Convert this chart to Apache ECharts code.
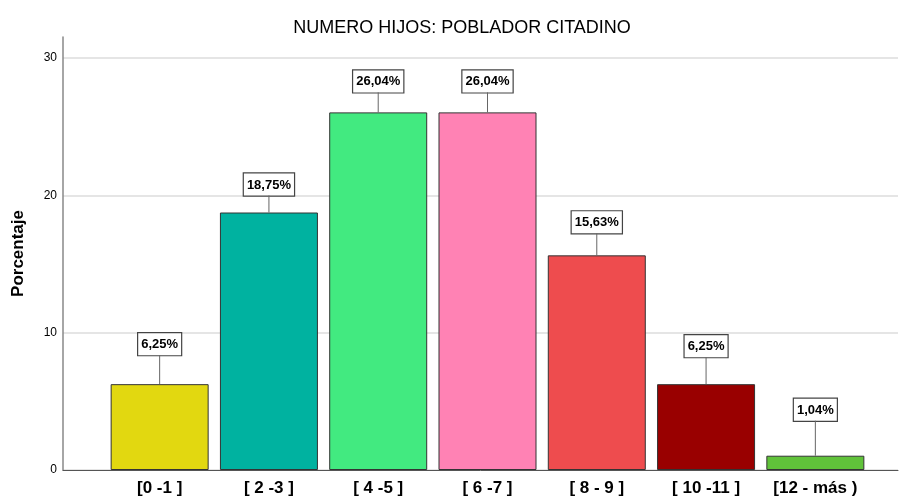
<!DOCTYPE html>
<html>
<head>
<meta charset="utf-8">
<script src="https://cdn.jsdelivr.net/npm/echarts@6/dist/echarts.min.js"></script>
<style>
  html, body { margin: 0; padding: 0; background: #fff; }
  #chart { width: 900px; height: 497px; }
</style>
</head>
<body>
<div id="chart"></div>
<script>
// datos
var categorias = ['[0 -1 ]', '[ 2 -3 ]', '[ 4 -5 ]', '[ 6 -7 ]', '[ 8 - 9 ]', '[ 10 -11 ]', '[12 - más )'];
var porcentajes = [6.25, 18.75, 26.04, 26.04, 15.63, 6.25, 1.04];
var colores = ['#e2d810', '#00b2a0', '#42ea80', '#ff82b4', '#ee4c4e', '#990000', '#60c23a'];
var ticksY = [0, 10, 20, 30];
// largo de la línea guía de cada etiqueta (px)
var guias = [29, 17, 20, 20, 22, 27, 35];

var myChart = echarts.init(document.getElementById('chart'));
var fuente = 'Liberation Sans, Arial, sans-serif';

var option = {
  animation: false,
  title: {
    text: 'NUMERO HIJOS: POBLADOR CITADINO',
    left: 457, top: 14, textAlign: 'center',
    textStyle: { fontFamily: fuente, fontSize: 18, fontWeight: 'normal', color: '#000' }
  },
  grid: [
    { left: 63, right: 2, top: 37, bottom: 27 },   // marco
    { left: 63, right: 2, top: 58, bottom: 27 },   // escala
    { left: 105, right: 30, top: 58, bottom: 27 }  // barras
  ],
  xAxis: [
    { gridIndex: 0, type: 'category', data: categorias,
      axisLine: { lineStyle: { color: '#555', width: 1 } },
      axisTick: { show: false }, axisLabel: { show: false } },
    { gridIndex: 1, type: 'category', data: categorias, show: false },
    { gridIndex: 2, type: 'category', data: categorias,
      axisLine: { show: false }, axisTick: { show: false },
      axisLabel: { interval: 0, hideOverlap: false, margin: 10,
        fontFamily: fuente, fontSize: 17, fontWeight: 'bold', color: '#000' } }
  ],
  yAxis: [
    { gridIndex: 0, type: 'value', min: 0, max: 31.5,
      name: 'Porcentaje', nameLocation: 'middle', nameGap: 36, nameRotate: 90,
      nameTextStyle: { fontFamily: fuente, fontSize: 17, fontWeight: 'bold', color: '#000' },
      axisLine: { show: true, lineStyle: { color: '#888', width: 1.5 } },
      axisTick: { show: false }, axisLabel: { show: false }, splitLine: { show: false } },
    { gridIndex: 1, type: 'value', min: ticksY[0], max: ticksY[ticksY.length - 1], interval: 10,
      axisLine: { show: false },
      axisTick: { show: false },
      axisLabel: { margin: 6, fontFamily: fuente, fontSize: 12, color: '#000' },
      splitLine: { show: true, lineStyle: { color: '#dcdcdc', width: 1.5 } } },
    { gridIndex: 2, type: 'value', min: 0, max: 30, show: false, splitLine: { show: false } }
  ],
  series: [
    {
      type: 'bar', xAxisIndex: 2, yAxisIndex: 2,
      barWidth: 98,
      data: porcentajes.map(function (v, i) {
        return { value: v, itemStyle: { color: colores[i] }, label: { distance: guias[i] } };
      }),
      itemStyle: { borderColor: '#333', borderWidth: 1 },
      label: {
        show: true, position: 'top',
        formatter: function (p) { return p.value.toFixed(2).replace('.', ',') + '%'; },
        fontFamily: fuente, fontSize: 13, fontWeight: 'bold', color: '#000',
        backgroundColor: '#fff', borderColor: '#444', borderWidth: 1.2,
        padding: [5, 3, 4, 3]
      },
      z: 3
    },
    {
      // líneas guía de las etiquetas
      type: 'custom', xAxisIndex: 2, yAxisIndex: 2,
      data: porcentajes.map(function (v, i) { return [i, v, guias[i]]; }),
      renderItem: function (params, api) {
        var p = api.coord([api.value(0), api.value(1)]);
        return {
          type: 'line',
          shape: { x1: p[0], y1: p[1], x2: p[0], y2: p[1] - api.value(2) },
          style: { stroke: '#666', lineWidth: 1 }
        };
      },
      z: 4
    }
  ]
};
myChart.setOption(option);
</script>
</body>
</html>
